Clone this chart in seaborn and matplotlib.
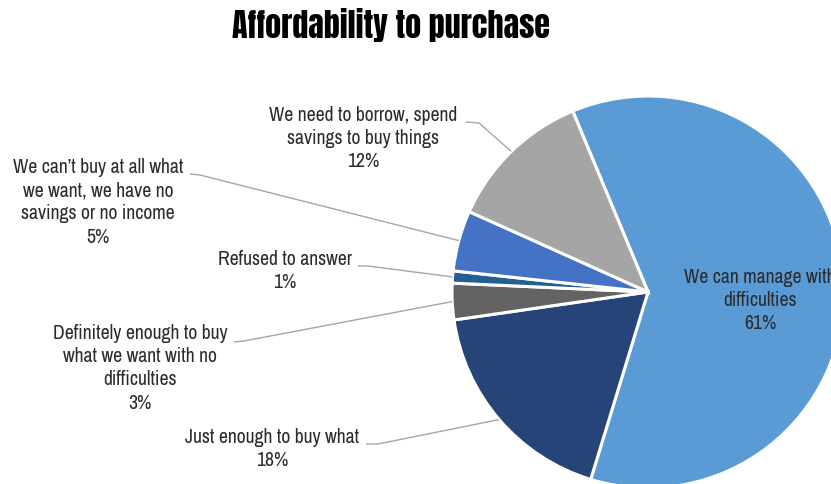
import numpy as np
import matplotlib
matplotlib.use("Agg")
import matplotlib.pyplot as plt
import seaborn as sns

# Survey answers, in clockwise order starting from the largest slice
categories = [
    "We can manage with\ndifficulties",
    "Just enough to buy what",
    "Definitely enough to buy\nwhat we want with no\ndifficulties",
    "Refused to answer",
    "We can\u2019t buy at all what\nwe want, we have no\nsavings or no income",
    "We need to borrow, spend\nsavings to buy things",
]
shares = [61, 18, 3, 1, 5, 12]
colors = ["#5B9BD5", "#264478", "#636363", "#255E91", "#4472C4", "#A5A5A5"]

sns.set_theme(style="white")
plt.rcParams["font.family"] = ["Archivo Narrow", "Roboto Condensed", "DejaVu Sans"]

W, H = 831, 484
fig = plt.figure(figsize=(W / 100, H / 100), dpi=100)
ax = fig.add_axes([0, 0, 1, 1])


def py(y):
    """Convert a top-down pixel row to the axes' bottom-up y value."""
    return H - y


cx, cy, r = 648, py(292), 196
wedges, _ = ax.pie(
    shares,
    colors=colors,
    startangle=112.6,
    counterclock=False,
    center=(cx, cy),
    radius=r,
    wedgeprops=dict(edgecolor="white", linewidth=2.2),
    frame=True,
)
ax.set_xlim(0, W)
ax.set_ylim(0, H)
ax.set_aspect("equal")
ax.axis("off")

text_color = "#2b2b2b"
fs = 14.2
ls = 1.28

# Label block centre / top, and the short horizontal stub of each leader line
labels = {
    1: dict(xy=(272, 428), elbow=[(366, 444), (378, 444)]),
    2: dict(xy=(140, 324), elbow=[(234, 342), (244, 341)]),
    3: dict(xy=(285, 250), elbow=[(358, 266), (368, 266)]),
    4: dict(xy=(98, 158), elbow=[(190, 174), (200, 175)]),
    5: dict(xy=(363, 106), elbow=[(466, 122), (479, 123)]),
}

for i, spec in labels.items():
    w = wedges[i]
    mid = np.deg2rad((w.theta1 + w.theta2) / 2)
    ex, ey = cx + r * np.cos(mid), cy + r * np.sin(mid)
    (x0, y0), (x1, y1) = spec["elbow"]
    ax.plot([x0, x1, ex], [py(y0), py(y1), ey], color="#A6A6A6", lw=1.0,
            solid_capstyle="butt", zorder=1)
    tx, ty = spec["xy"]
    ax.text(tx, py(ty), f"{categories[i]}\n{shares[i]}%", ha="center", va="top",
            fontsize=fs, color=text_color, linespacing=ls)

# Inside label for the dominant slice
ax.text(760, py(268), f"{categories[0]}\n{shares[0]}%", ha="center", va="top",
        fontsize=fs, color=text_color, linespacing=ls)

fig.text(391 / W, 1 - 25 / H, "Affordability to purchase", ha="center", va="center",
         fontsize=23, color="black", family=["Anton", "DejaVu Sans"])

fig.savefig("out.png", dpi=100)
